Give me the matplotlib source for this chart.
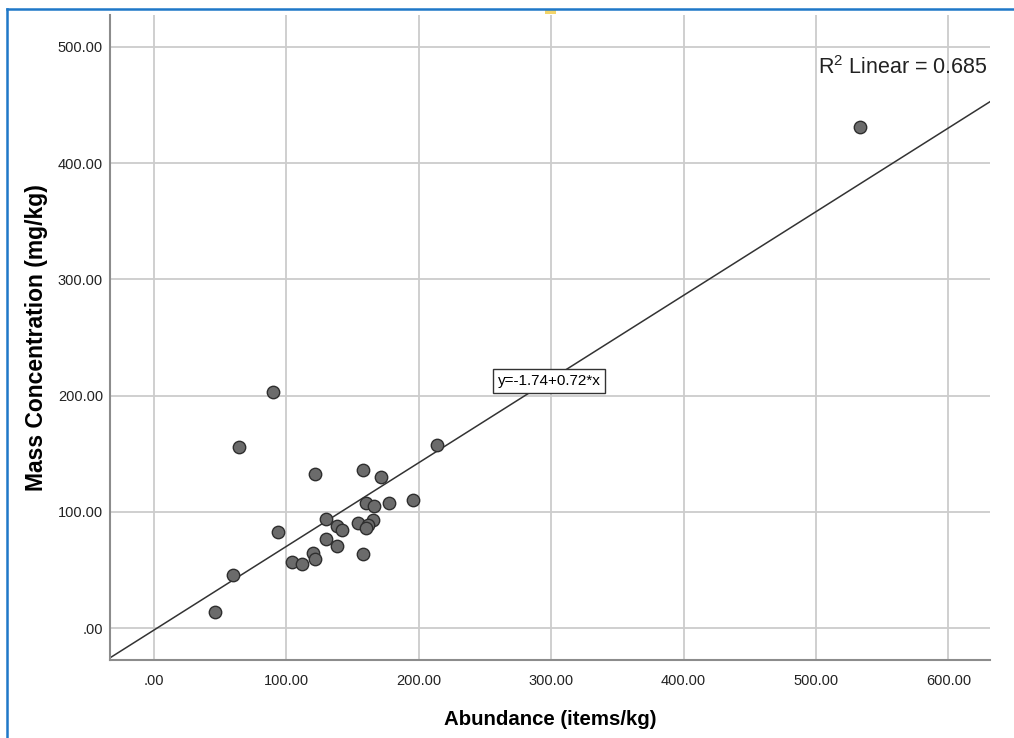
import matplotlib.pyplot as plt
from matplotlib.lines import Line2D
from matplotlib.patches import Rectangle
import numpy as np

plt.rcParams['font.family'] = ['Liberation Sans', 'DejaVu Sans']

# abundance (items/kg) and mass concentration (mg/kg) per sample
abundance = [90.1, 64.2, 121.8, 157.9, 171.7, 213.7, 159.9, 166.2, 177.7,
             195.9, 129.9, 138.0, 142.2, 153.9, 165.6, 161.9, 159.9, 93.9,
             129.9, 138.0, 157.9, 119.9, 121.8, 104.2, 112.0, 59.9, 46.1,
             533.2]
mass_conc = [203.4, 155.5, 132.5, 136.2, 130.2, 157.2, 107.3, 105.0, 107.8,
             110.2, 93.5, 87.8, 84.1, 90.6, 92.9, 88.6, 85.8, 82.9,
             76.3, 70.8, 63.9, 64.3, 59.6, 56.5, 55.3, 45.6, 13.5,
             431.2]

intercept = -1.74
slope = 0.72
r_squared = 0.685

x_ticks = [0, 100, 200, 300, 400, 500, 600]
y_ticks = [0, 100, 200, 300, 400, 500]
x_lim = (-33.2, 631.4)
y_lim = (-27.5, 527.5)


def fmt(v):
    s = '%.2f' % v
    return s[1:] if s.startswith('0') else s


fig = plt.figure(figsize=(10.14, 7.38), dpi=100)
ax = fig.add_axes([0.1085, 0.1057, 0.9763 - 0.1085, 0.9797 - 0.1057])

ax.set_xlim(*x_lim)
ax.set_ylim(*y_lim)
ax.set_xticks(x_ticks)
ax.set_yticks(y_ticks)
ax.set_xticklabels([fmt(v) for v in x_ticks])
ax.set_yticklabels([fmt(v) for v in y_ticks])
ax.tick_params(length=0, labelsize=10.5, colors='#222222')
ax.tick_params(axis='x', pad=10)
ax.tick_params(axis='y', pad=5)
ax.grid(True, color='#cccccc', linewidth=1.3)
ax.set_axisbelow(True)

for side in ('top', 'right'):
    ax.spines[side].set_visible(False)
for side in ('left', 'bottom'):
    ax.spines[side].set_color('#8c8c8c')
    ax.spines[side].set_linewidth(1.5)

# fit line across the whole x range
xs = np.array(x_lim)
ax.plot(xs, intercept + slope * xs, color='#333333', linewidth=1.1, zorder=2)

ax.scatter(abundance, mass_conc, s=80, facecolor='#6b6b6b',
           edgecolor='#2e2e2e', linewidth=1.0, zorder=3)

ax.text(298.5, 212.6, 'y=-1.74+0.72*x', ha='center', va='center',
        fontsize=11, zorder=4,
        bbox=dict(boxstyle='square,pad=0.3', facecolor='white',
                  edgecolor='#333333', linewidth=1.0))
ax.text(630, 482, '$\\mathregular{R^2}$ Linear = %.3f' % r_squared,
        ha='right', va='center', fontsize=15.5, color='#222222')

ax.set_xlabel('Abundance (items/kg)', fontsize=14.7, fontweight='bold',
              labelpad=16)
ax.set_ylabel('Mass Concentration (mg/kg)', fontsize=16.5, fontweight='bold',
              labelpad=7)

# panel frame: left and top edges only
fig.lines.append(Line2D([7 / 1014, 7 / 1014], [0, 1 - 9 / 738],
                        transform=fig.transFigure, color='#1f78c8',
                        linewidth=1.8))
fig.lines.append(Line2D([7 / 1014, 1], [1 - 9 / 738, 1 - 9 / 738],
                        transform=fig.transFigure, color='#1f78c8',
                        linewidth=1.8))
fig.patches.append(Rectangle((545 / 1014, 1 - 14 / 738), 11 / 1014, 5 / 738,
                             transform=fig.transFigure, facecolor='#f3d56a',
                             edgecolor='none'))

fig.savefig('out.png', dpi=100)
